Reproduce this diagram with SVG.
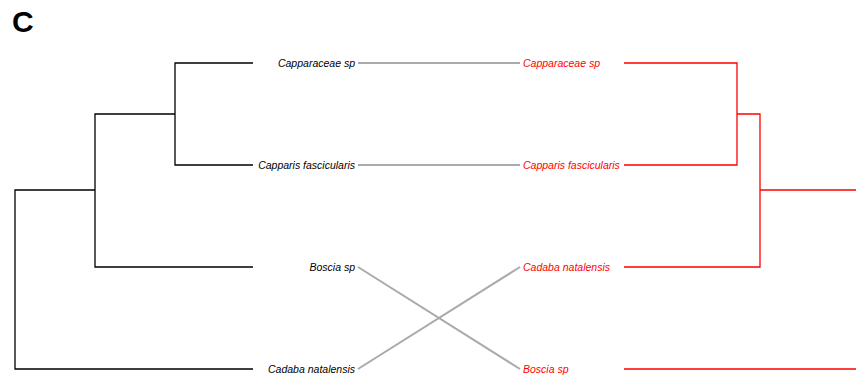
<svg xmlns="http://www.w3.org/2000/svg" width="856" height="381" viewBox="0 0 856 381">
<style>
.t{font-family:"Liberation Sans",Arial,sans-serif;font-size:10.5px;font-style:italic}
.l{fill:#000;text-anchor:end}
.r{fill:#ff0000;text-anchor:start}
.bl{stroke:#000;stroke-width:1.3;fill:none}
.br{stroke:#ff0000;stroke-width:1.3;fill:none}
.c{stroke:#aaaaaa;stroke-width:2;fill:none}
</style>
<rect width="856" height="381" fill="#fff"/>
<text x="12" y="32" font-family="Liberation Sans,Arial,sans-serif" font-size="30" font-weight="bold">C</text>
<g id="left-tree">
<path class="bl" d="M253,63H175V165H253M175,114H95V267H253M95,190H15V369H253"/>
</g>
<g id="right-tree">
<path class="br" d="M624,63H737V165H624M737,114H760V267H624M760,190H856M624,369H856"/>
</g>
<g id="node-left-capparaceae"><text class="t l" x="355" y="66.7">Capparaceae sp</text></g>
<g id="node-left-capparis"><text class="t l" x="355" y="168.7">Capparis fascicularis</text></g>
<g id="node-left-boscia"><text class="t l" x="355" y="270.7">Boscia sp</text></g>
<g id="node-left-cadaba"><text class="t l" x="355" y="372.7">Cadaba natalensis</text></g>
<g id="node-right-capparaceae"><text class="t r" x="523" y="66.7">Capparaceae sp</text></g>
<g id="node-right-capparis"><text class="t r" x="523" y="168.7">Capparis fascicularis</text></g>
<g id="node-right-cadaba"><text class="t r" x="523" y="270.7">Cadaba natalensis</text></g>
<g id="node-right-boscia"><text class="t r" x="523" y="372.7">Boscia sp</text></g>
<g id="connectors">
<line class="c" x1="358" y1="63" x2="520" y2="63"/>
<line class="c" x1="358" y1="165" x2="520" y2="165"/>
<line class="c" x1="358" y1="267" x2="520" y2="369"/>
<line class="c" x1="358" y1="369" x2="520" y2="267"/>
</g>
</svg>
